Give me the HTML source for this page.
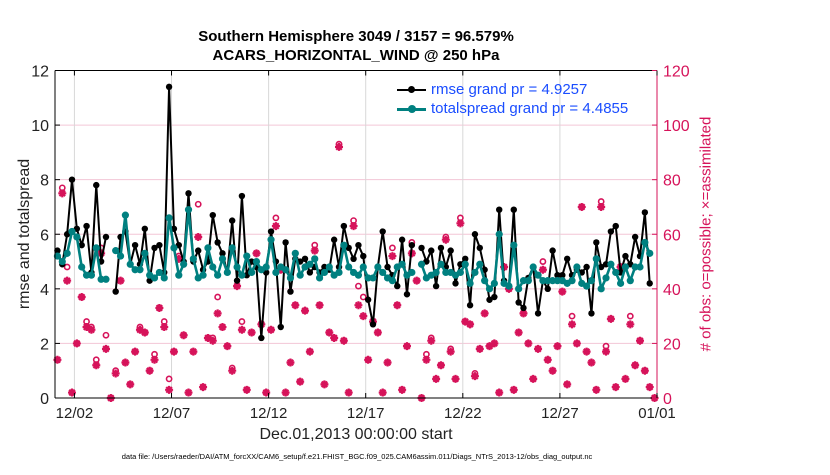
<!DOCTYPE html>
<html><head><meta charset="utf-8"><style>
body{margin:0;background:#fff;width:830px;height:470px;overflow:hidden;font-family:"Liberation Sans",sans-serif}
</style></head><body>
<svg id="chart" width="830" height="470" xmlns="http://www.w3.org/2000/svg" font-family="Liberation Sans, sans-serif"></svg>
<script>
const rmse=[5.4,4.9,6.0,8.0,6.2,5.6,6.3,4.6,7.8,5.0,5.9,NaN,3.9,5.9,6.1,4.9,5.6,4.9,6.2,4.3,5.5,5.6,4.6,11.4,6.2,5.6,5.0,7.5,5.0,5.4,4.7,5.0,6.7,5.7,5.3,4.6,6.5,4.3,7.4,4.5,
5.0,4.8,2.2,4.6,6.1,5.0,2.6,5.7,3.9,5.1,5.0,5.1,4.6,4.8,4.6,4.8,4.7,5.8,4.8,6.3,5.5,5.1,5.6,5.2,3.6,2.7,4.8,6.1,4.8,4.5,4.1,5.8,3.8,5.6,NaN,5.5,5.0,5.4,4.1,5.5,4.8,
5.4,4.2,4.9,5.1,3.4,6.0,5.5,4.7,3.6,3.7,6.9,4.3,4.1,6.9,3.5,3.3,4.4,4.8,3.1,4.3,4.0,5.4,4.5,4.5,5.1,4.5,4.7,4.6,4.8,3.1,5.7,4.8,4.9,6.1,6.3,4.6,5.2,4.9,5.9,5.2,6.8,4.2,NaN];
const spread=[5.2,5.0,5.3,6.1,5.9,4.8,4.5,4.5,5.5,4.35,4.35,NaN,5.4,5.2,6.7,4.9,4.7,4.7,5.3,4.5,4.4,4.6,4.4,6.6,5.5,4.5,4.9,6.9,5.1,4.4,4.5,5.5,4.8,4.5,5.1,4.6,5.5,4.8,4.5,5.2,
4.6,5.0,4.7,4.8,5.8,4.6,4.8,4.7,4.4,5.3,4.5,4.8,4.9,5.1,4.4,4.6,4.8,4.5,4.6,5.6,4.8,4.6,4.5,4.8,4.4,4.4,4.8,4.6,4.4,4.3,4.8,4.9,4.5,4.6,NaN,4.9,4.4,4.5,4.6,4.9,4.6,
4.6,4.5,4.6,4.9,4.2,4.6,4.9,4.3,4.0,4.2,6.0,4.2,4.1,5.6,4.0,4.3,4.3,4.8,4.5,4.3,4.3,4.3,4.3,4.3,4.2,4.3,4.8,4.2,4.1,4.3,5.1,4.0,4.4,4.9,4.6,4.2,4.8,4.3,4.8,4.8,5.7,5.3,NaN];
const assim=[14,75,43,2,20,37,26,25,12,53,18,0,9,43,13,5,17,25,24,10,14,33,26,3,17,51,23,2,17,59,4,22,21,31,26,19,10,41,25,3,24,53,
27,2,25,63,47,2,13,34,6,32,17,54,34,5,24,22,92,21,2,63,34,30,14,28,24,2,13,52,34,3,19,53,43,0,14,21,7,12,58,17,
7,64,28,27,8,18,31,19,20,2,48,40,3,24,31,20,7,18,47,14,10,19,39,5,27,20,70,17,13,3,70,17,29,4,48,7,27,12,21,10,4,0];
const possible=[14,77,48,2,20,37,28,26,14,55,23,0,10,43,13,5,17,26,24,10,16,33,28,7,17,52,23,2,17,71,4,22,22,37,26,19,11,41,28,3,24,53,
27,2,25,66,47,2,13,34,6,32,17,56,34,5,24,22,93,21,2,65,41,37,14,28,24,2,13,55,34,3,19,57,43,0,16,22,7,12,59,18,
7,66,28,27,9,18,31,19,20,2,48,40,3,24,31,20,7,18,50,14,10,19,39,5,30,20,70,17,13,3,72,19,29,4,48,7,30,12,21,10,4,0];
const xTickLabels=["12/02","12/07","12/12","12/17","12/22","12/27","01/01"];
const xTickDays=[1,6,11,16,21,26,31];
const yTicksLeft=[0,2,4,6,8,10,12];
const yTicksRight=[0,20,40,60,80,100,120];

const L=55,R=657,T=70.5,B=398;
const NS='http://www.w3.org/2000/svg';
const svg=document.getElementById('chart');
const xs=d=>L+(d/31)*(R-L);
const xi=i=>xs(0.125+i*0.25);
const yl=v=>B-(v/12)*(B-T);
const yr=v=>B-(v/120)*(B-T);
const PINK='#d6135a';
function mk(tag,attrs,parent){const e=document.createElementNS(NS,tag);for(const k in attrs)e.setAttribute(k,attrs[k]);(parent||svg).appendChild(e);return e;}

const grid=mk('g',{});


yTicksLeft.forEach(v=>{if(v>0&&v<12)mk('line',{x1:L,x2:R,y1:yl(v),y2:yl(v),stroke:'#f3c6d6','stroke-width':1},grid);});
xTickDays.forEach(d=>mk('line',{x1:xs(d),x2:xs(d),y1:T,y2:B,stroke:'#d8d8d8','stroke-width':1},grid));

const obs=mk('g',{});


possible.forEach((v,i)=>{const c=mk('circle',{cx:xi(i),cy:yr(v),r:2.6,fill:'none',stroke:PINK,'stroke-width':1.6},obs);

});
assim.forEach((v,i)=>{const x=xi(i),y=yr(v),s=4;
const p=mk('path',{d:`M${x-s},${y}H${x+s}M${x},${y-s}V${y+s}M${x-s*0.7},${y-s*0.7}L${x+s*0.7},${y+s*0.7}M${x-s*0.7},${y+s*0.7}L${x+s*0.7},${y-s*0.7}`,stroke:PINK,'stroke-width':2.2},obs);

});

function series(arr,color,w,r,name){
  const g=mk('g',{});
  
  
  let d='',pen=false;
  arr.forEach((v,i)=>{if(isNaN(v)){pen=false;return;}d+=(pen?'L':'M')+xi(i)+','+yl(v);pen=true;});
  mk('path',{d:d,fill:'none',stroke:color,'stroke-width':w,'stroke-linejoin':'round'},g);
  arr.forEach((v,i)=>{if(!isNaN(v)){const c=mk('circle',{cx:xi(i),cy:yl(v),r:r,fill:color},g);
    
    }});
}
series(rmse,'#000',2,3.2,'rmse-line');
series(spread,'#008080',2.6,3.6,'totalspread-line');

const ax=mk('g',{});


mk('line',{x1:L,x2:L,y1:T,y2:B,stroke:'#000','stroke-width':1},ax);
mk('line',{x1:L,x2:R,y1:T,y2:T,stroke:'#000','stroke-width':1},ax);
mk('line',{x1:L,x2:R,y1:B,y2:B,stroke:'#000','stroke-width':1},ax);
mk('line',{x1:R,x2:R,y1:T,y2:B,stroke:PINK,'stroke-width':1},ax);
yTicksLeft.forEach(v=>{mk('line',{x1:L,x2:L+5,y1:yl(v),y2:yl(v),stroke:'#000'},ax);
 const t=mk('text',{x:L-6,y:yl(v)+6,'text-anchor':'end','font-size':16,fill:'#222'},ax);t.textContent=v;
 });
yTicksRight.forEach(v=>{mk('line',{x1:R-5,x2:R,y1:yr(v),y2:yr(v),stroke:PINK},ax);
 const t=mk('text',{x:R+6,y:yr(v)+6,'font-size':16,fill:PINK},ax);t.textContent=v;
 });
xTickDays.forEach((d,i)=>{mk('line',{x1:xs(d),x2:xs(d),y1:B-5,y2:B,stroke:'#000'},ax);mk('line',{x1:xs(d),x2:xs(d),y1:T,y2:T+5,stroke:'#000'},ax);
 const t=mk('text',{x:xs(d),y:418,'text-anchor':'middle','font-size':15,fill:'#222'},ax);t.textContent=xTickLabels[i];
 });
</script>
<div style="position:absolute;left:0;top:0;width:830px;height:470px;pointer-events:none">
<div style="position:absolute;left:0;width:712px;top:27px;text-align:center;font-weight:bold;font-size:15px;line-height:19px;color:#000">Southern Hemisphere 3049 / 3157 = 96.579%<br>ACARS_HORIZONTAL_WIND @ 250 hPa</div>
<div style="position:absolute;left:397px;top:80px;font-size:15px;color:#1a4dff;line-height:19px">
 <div style="position:relative;padding-left:34px"><span style="position:absolute;left:0;top:9px;width:29px;height:2px;background:#000"></span><span style="position:absolute;left:11px;top:6px;width:7px;height:7px;border-radius:50%;background:#000"></span>rmse grand pr = 4.9257</div>
 <div style="position:relative;padding-left:34px"><span style="position:absolute;left:0;top:9px;width:29px;height:3px;background:#008080"></span><span style="position:absolute;left:11px;top:6px;width:8px;height:8px;border-radius:50%;background:#008080"></span>totalspread grand pr = 4.4855</div>
</div>
<div style="position:absolute;left:25px;top:234px;transform:translate(-50%,-50%) rotate(-90deg);white-space:nowrap;font-size:16px;color:#222">rmse and totalspread</div>
<div style="position:absolute;left:706px;top:234px;transform:translate(-50%,-50%) rotate(-90deg);white-space:nowrap;font-size:15px;color:#d6135a"># of obs: o=possible; ×=assimilated</div>
<div style="position:absolute;left:55px;width:602px;top:426px;text-align:center;font-size:16px;color:#222">Dec.01,2013 00:00:00 start</div>
<div style="position:absolute;left:0;width:714px;top:452px;text-align:center;font-size:7.5px;color:#000">data file: /Users/raeder/DAI/ATM_forcXX/CAM6_setup/f.e21.FHIST_BGC.f09_025.CAM6assim.011/Diags_NTrS_2013-12/obs_diag_output.nc</div>
</div>
</body></html>
